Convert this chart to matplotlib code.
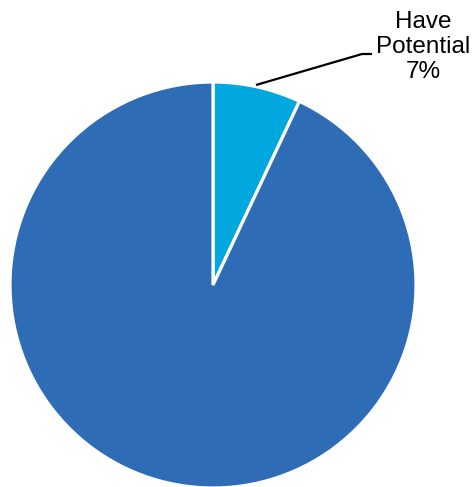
import matplotlib
matplotlib.use("Agg")
import matplotlib.pyplot as plt

labels = ["Have Potential", "Other"]
values = [7, 93]
colors = ["#00A8DF", "#2E6DB6"]

plt.rcParams['font.family'] = ['Liberation Sans', 'DejaVu Sans']

fig = plt.figure(figsize=(4.72, 4.87), dpi=100)
W, H = 472, 487
cx, cy, r = 213, 285, 203
ax = fig.add_axes([(cx - r) / W, (H - cy - r) / H, 2 * r / W, 2 * r / H])
ax.pie(values, colors=colors, startangle=90, counterclock=False,
       wedgeprops=dict(edgecolor="white", linewidth=2.3), radius=1.0)
ax.set_xlim(-1, 1)
ax.set_ylim(-1, 1)
ax.set_aspect('equal')
ax.axis('off')

def p(px, py):
    return ((px - cx) / r, (cy - py) / r)

x0, y0 = p(256, 85)
x1, y1 = p(362, 54)
x2, y2 = p(372, 54)
ax.plot([x0, x1, x2], [y0, y1, y2], color="black", lw=1.6, clip_on=False,
        solid_capstyle='butt')
tx, ty = p(423, 47)
ax.text(tx, ty, f"Have\nPotential\n{values[0]}%", ha="center", va="center",
        multialignment="center", fontsize=17.5, color="black", clip_on=False,
        linespacing=1.18)

fig.savefig("out.png", dpi=100)
